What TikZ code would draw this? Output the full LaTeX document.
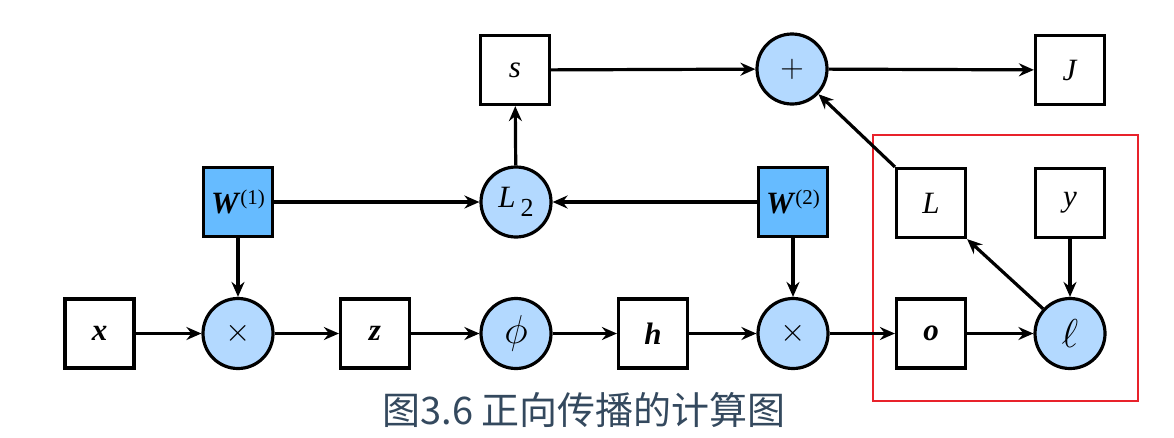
\RequirePackage{fix-cm}
\documentclass[tikz,border=0pt]{standalone}
\usepackage{amsmath,graphicx}
\usepackage{fontspec}
\setmainfont{Liberation Serif}
\newfontfamily\cjk{Noto Sans CJK SC}
\usetikzlibrary{arrows.meta,shapes.geometric}
\definecolor{opfill}{HTML}{B3D9FF}
\definecolor{wfill}{HTML}{66BBFF}
\definecolor{capcol}{HTML}{34495E}
\definecolor{redbox}{HTML}{E8222B}
\newcommand{\vecv}[1]{\textbf{\textit{#1}}}
\newcommand{\opsym}[2][1.3]{\scalebox{#1}{$#2$}}
\begin{document}
\begin{tikzpicture}[x=1pt,y=-1pt,
  every node/.style={font=\fontsize{31}{35}\selectfont},
  var/.style={draw, line width=3.2pt, minimum size=69pt, inner sep=0pt, fill=white},
  wvar/.style={var, fill=wfill},
  op/.style={draw, circle, line width=3.2pt, minimum size=70pt, inner sep=0pt, fill=opfill},
  conn/.style={line width=3.2pt, -{Stealth[length=15pt,width=13pt,inset=5pt]}},
  hilite/.style={draw=redbox, line width=2.3pt},
  caption/.style={font=\cjk\fontsize{38}{42}\selectfont, text=capcol, inner sep=0pt}
]
\useasboundingbox (0,0) rectangle (1174,437);

% highlight frame
\draw[hilite] (873,135) rectangle (1138,401);

% bottom row
\node[var] (x)   at (99.5,333.5)  {\vecv{x}};
\node[op]  (m1)  at (238,333.5) {\opsym[1.05]{\times}};
\node[var] (z)   at (375,333.5) {\vecv{z}};
\node[op]  (phi) at (516,333.5) {\opsym{\phi}};
\node[var] (h)   at (653,333.5) {\vecv{h}};
\node[op]  (m2)  at (793,333.5) {\opsym[1.05]{\times}};
\node[var] (o)   at (931,333.5) {\vecv{o}};
\node[op]  (ell) at (1070,333.5) {\opsym{\ell}};

% middle row
\node[wvar] (W1) at (238,202) {\vecv{W}\raisebox{9pt}{\fontsize{21}{21}\selectfont(1)}};
\node[op]   (L2) at (516,202) {\textit{L}\,\raisebox{-9pt}{\fontsize{26}{26}\selectfont 2}};
\node[wvar] (W2) at (793,202) {\vecv{W}\raisebox{9pt}{\fontsize{21}{21}\selectfont(2)}};
\node[var]  (L)  at (931,203) {\textit{L}};
\node[var]  (y)  at (1070,203) {\textit{y}};

% top row
\node[var] (s)    at (515,70)  {\textit{s}};
\node[op]  (plus) at (792,69)  {\opsym[1.05]{+}};
\node[var] (J)    at (1070,70) {\textit{J}};

% connectors
\draw[conn] (x) -- (m1);
\draw[conn] (m1) -- (z);
\draw[conn] (z) -- (phi);
\draw[conn] (phi) -- (h);
\draw[conn] (h) -- (m2);
\draw[conn] (m2) -- (o);
\draw[conn] (o) -- (ell);
\draw[conn] (W1) -- (m1);
\draw[conn] (W1) -- (L2);
\draw[conn] (W2) -- (L2);
\draw[conn] (W2) -- (m2);
\draw[conn] (L2) -- (s);
\draw[conn] (s) -- (plus);
\draw[conn] (plus) -- (J);
\draw[conn] (L.north west) -- (plus);
\draw[conn] (ell) -- (L.south east);
\draw[conn] (y) -- (ell);

% caption
\node[caption] (cap) at (584,410) {图3.6 正向传播的计算图};
\end{tikzpicture}
\end{document}
